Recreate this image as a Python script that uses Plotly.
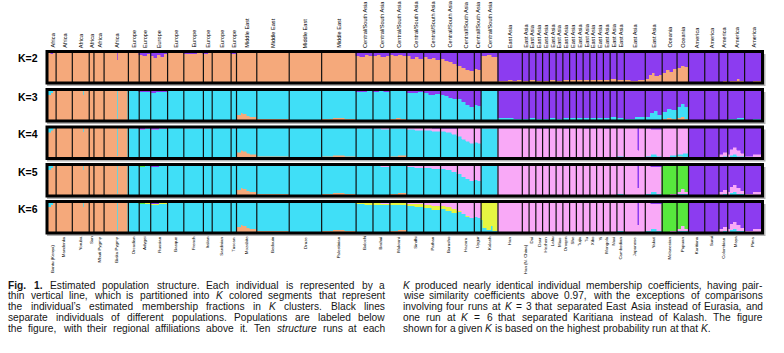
import re
import plotly.graph_objects as go

# ---------------- data ----------------
POPULATIONS = ["Bantu (Kenya)", "Mandenka", "Yoruba", "San", "Mbuti Pygmy", "Biaka Pygmy",
               "Orcadian", "Adygei", "Russian", "Basque", "French", "Italian", "Sardinian", "Tuscan",
               "Mozabite", "Bedouin", "Druze", "Palestinian",
               "Balochi", "Brahui", "Makrani", "Sindhi", "Pathan", "Burusho", "Hazara", "Uygur", "Kalash",
               "Han", "Han (N. China)", "Dai", "Daur", "Hezhen", "Lahu", "Miao", "Oroqen", "She", "Tujia",
               "Tu", "Xibo", "Yi", "Mongola", "Naxi", "Cambodian", "Japanese", "Yakut",
               "Melanesian", "Papuan",
               "Karitiana", "Surui", "Colombian", "Maya", "Pima"]
REGIONS = ["Africa"] * 6 + ["Europe"] * 8 + ["Middle East"] * 4 + ["Central/South Asia"] * 9 + \
          ["East Asia"] * 18 + ["Oceania"] * 2 + ["America"] * 5
SAMPLE_SIZES = [12, 24, 25, 7, 15, 36,
                16, 17, 25, 24, 29, 13, 28, 8,
                30, 48, 48, 51,
                25, 25, 25, 25, 25, 25, 25, 10, 25,
                36, 10, 10, 10, 10, 10, 10, 10, 10, 10, 10, 10, 10, 10, 10, 11, 31, 25,
                22, 17,
                24, 21, 13, 25, 25]
K_LABELS = ["K=2", "K=3", "K=4", "K=5", "K=6"]

ORANGE = "#F5A97B"
PURPLE = "#8C3CF0"
CYAN = "#40DFF7"
PINK = "#F9A9F7"
GREEN = "#57E83D"
YELLOW = "#E6F542"

# each population: list of (relative weight, cluster fractions...)
K2_CLUSTERS = [ORANGE, PURPLE]
K2 = [
    [(1, 97, 3), (1, 95, 5), (1, 98, 2)],
    [(1, 98, 2), (1, 97, 3)],
    [(1, 97, 3), (1, 99, 1), (1, 96, 4)],
    [(1, 98, 2)],
    [(1, 98, 2)],
    [(20, 98, 2), (1, 75, 25), (15, 98, 2)],
    [(1, 96, 4), (1, 97, 3)],
    [(1, 90, 10), (1, 86, 14), (1, 92, 8)],
    [(1, 88, 12), (1, 80, 20), (1, 90, 10), (1, 85, 15), (1, 92, 8)],
    [(1, 97, 3), (1, 96, 4)],
    [(1, 95, 5), (1, 93, 7), (1, 96, 4)],
    [(1, 94, 6), (1, 96, 4)],
    [(1, 97, 3), (1, 96, 4)],
    [(1, 95, 5)],
    [(1, 98, 2), (1, 97, 3)],
    [(1, 98, 2), (1, 97, 3)],
    [(1, 98, 2), (1, 99, 1)],
    [(1, 97, 3), (1, 98, 2)],
    [(1, 88, 12), (1, 85, 15), (1, 90, 10), (1, 86, 14)],
    [(1, 86, 14), (1, 90, 10), (1, 84, 16), (1, 88, 12)],
    [(1, 90, 10), (1, 86, 14), (1, 91, 9), (1, 88, 12)],
    [(1, 86, 14), (1, 78, 22), (1, 83, 17), (1, 76, 24)],
    [(1, 82, 18), (1, 78, 22), (1, 80, 20), (1, 74, 26)],
    [(1, 76, 24), (1, 70, 30), (1, 66, 34), (1, 62, 38)],
    [(1, 55, 45), (1, 48, 52), (1, 42, 58), (1, 38, 62)],
    [(1, 45, 55), (1, 42, 58)],
    [(1, 87, 13), (1, 89, 11), (1, 85, 15)],
    [(1, 6, 94), (1, 4, 96), (1, 8, 92), (1, 5, 95), (1, 7, 93)],
    [(1, 6, 94)], [(1, 8, 92)], [(1, 6, 94)], [(1, 5, 95)], [(1, 7, 93)], [(1, 6, 94)], [(1, 8, 92)],
    [(1, 7, 93)], [(1, 8, 92)], [(1, 9, 91)], [(1, 7, 93)], [(1, 8, 92)], [(1, 8, 92)], [(1, 10, 90)],
    [(1, 8, 92)],
    [(1, 7, 93), (1, 5, 95), (1, 9, 91)],
    [(1, 12, 88), (1, 24, 76), (1, 30, 70), (1, 20, 80), (1, 26, 74)],
    [(1, 32, 68), (1, 40, 60), (1, 36, 64), (1, 44, 56)],
    [(1, 46, 54), (1, 54, 46), (1, 50, 50)],
    [(1, 1, 99)],
    [(1, 1, 99)],
    [(1, 3, 97), (1, 6, 94)],
    [(3, 3, 97), (1, 35, 65), (10, 5, 95), (4, 12, 88), (7, 6, 94)],
    [(1, 2, 98), (1, 4, 96)],
]

K3_CLUSTERS = [ORANGE, CYAN, PURPLE]
K3 = [
    [(1, 82, 18, 0), (1, 90, 10, 0), (1, 97, 3, 0)],
    [(1, 99, 1, 0)],
    [(17, 99, 1, 0), (1, 85, 15, 0), (7, 99, 1, 0)],
    [(1, 99, 1, 0)],
    [(1, 99, 1, 0)],
    [(20, 99, 1, 0), (1, 5, 95, 0), (15, 99, 1, 0)],
    [(1, 1, 97, 2)],
    [(1, 1, 92, 7), (1, 1, 94, 5)],
    [(1, 0, 90, 10), (1, 1, 93, 6), (1, 0, 95, 5)],
    [(1, 1, 98, 1)],
    [(1, 1, 97, 2), (1, 2, 96, 2)],
    [(1, 2, 96, 2)],
    [(1, 2, 97, 1)],
    [(1, 3, 95, 2)],
    [(6, 18, 81, 1), (3, 25, 74, 1), (1, 62, 37, 1), (6, 20, 79, 1), (4, 15, 84, 1), (10, 12, 87, 1)],
    [(13, 4, 95, 1), (1, 80, 19, 1), (34, 6, 93, 1)],
    [(1, 2, 97, 1)],
    [(1, 5, 94, 1), (1, 8, 91, 1), (1, 4, 95, 1)],
    [(1, 1, 94, 5), (1, 2, 92, 6), (1, 1, 95, 4)],
    [(1, 1, 94, 5), (1, 2, 95, 3), (1, 1, 92, 7)],
    [(1, 5, 92, 3), (1, 8, 89, 3), (1, 4, 94, 2)],
    [(1, 1, 90, 9), (1, 2, 87, 11), (1, 1, 91, 8)],
    [(1, 1, 88, 11), (1, 0, 85, 15), (1, 1, 87, 12)],
    [(1, 0, 85, 15), (1, 0, 80, 20), (1, 0, 75, 25), (1, 0, 70, 30)],
    [(1, 0, 70, 30), (1, 0, 60, 40), (1, 0, 52, 48), (1, 0, 45, 55)],
    [(1, 0, 52, 48), (1, 0, 48, 52)],
    [(1, 1, 97, 2)],
    [(1, 1, 6, 93), (1, 0, 8, 92), (1, 1, 5, 94)],
    [(1, 0, 6, 94)], [(1, 1, 7, 92)], [(1, 0, 6, 94)], [(1, 0, 5, 95)], [(1, 1, 6, 93)], [(1, 0, 6, 94)],
    [(1, 0, 8, 92)], [(1, 1, 6, 93)], [(1, 0, 8, 92)], [(1, 1, 8, 91)], [(1, 0, 7, 93)], [(1, 1, 7, 92)],
    [(1, 0, 8, 92)], [(1, 1, 9, 90)],
    [(1, 1, 8, 91)],
    [(1, 0, 6, 94), (1, 1, 9, 90)],
    [(1, 0, 12, 88), (1, 1, 24, 75), (1, 0, 30, 70), (1, 1, 18, 81)],
    [(1, 4, 24, 72), (1, 7, 32, 61), (1, 5, 28, 67)],
    [(1, 7, 36, 57), (1, 10, 44, 46), (1, 6, 38, 56)],
    [(1, 0, 1, 99)],
    [(1, 0, 1, 99)],
    [(1, 0, 3, 97)],
    [(3, 1, 3, 96), (1, 3, 28, 69), (10, 1, 5, 94), (11, 2, 7, 91)],
    [(1, 0, 2, 98), (1, 1, 4, 95)],
]

K4_CLUSTERS = [ORANGE, CYAN, PINK, PURPLE]
K4 = [
    [(1, 82, 18, 0, 0), (1, 90, 10, 0, 0), (1, 97, 3, 0, 0)],
    [(1, 99, 1, 0, 0)],
    [(17, 99, 1, 0, 0), (1, 85, 15, 0, 0), (7, 99, 1, 0, 0)],
    [(1, 99, 1, 0, 0)],
    [(1, 99, 1, 0, 0)],
    [(20, 99, 1, 0, 0), (1, 5, 95, 0, 0), (15, 99, 1, 0, 0)],
    [(1, 1, 97, 1, 1)],
    [(1, 1, 93, 1, 5), (1, 1, 95, 1, 3)],
    [(1, 0, 92, 1, 7), (1, 1, 95, 1, 3)],
    [(1, 1, 98, 0, 1)],
    [(1, 1, 97, 1, 1)],
    [(1, 2, 96, 1, 1)],
    [(1, 2, 97, 0, 1)],
    [(1, 3, 95, 1, 1)],
    [(6, 18, 81, 0, 1), (3, 25, 74, 0, 1), (1, 62, 37, 0, 1), (6, 20, 79, 0, 1), (4, 15, 84, 0, 1), (10, 12, 87, 0, 1)],
    [(13, 4, 95, 0, 1), (1, 80, 19, 0, 1), (34, 6, 93, 0, 1)],
    [(1, 2, 97, 0, 1)],
    [(1, 5, 94, 0, 1), (1, 8, 91, 0, 1), (1, 4, 95, 0, 1)],
    [(1, 1, 95, 3, 1), (1, 2, 94, 3, 1)],
    [(1, 1, 95, 3, 1), (1, 1, 93, 5, 1)],
    [(1, 5, 91, 3, 1), (1, 8, 88, 3, 1)],
    [(1, 1, 92, 6, 1), (1, 2, 89, 8, 1)],
    [(1, 1, 90, 8, 1), (1, 0, 86, 12, 2)],
    [(1, 0, 88, 10, 2), (1, 0, 82, 16, 2), (1, 0, 76, 22, 2)],
    [(1, 0, 72, 27, 1), (1, 0, 62, 37, 1), (1, 0, 54, 45, 1), (1, 0, 48, 51, 1)],
    [(1, 0, 52, 47, 1), (1, 0, 48, 51, 1)],
    [(1, 1, 96, 2, 1)],
    [(1, 0, 2, 97, 1), (1, 0, 3, 96, 1)],
    [(1, 0, 1, 98, 1)], [(1, 0, 2, 97, 1)], [(1, 0, 1, 97, 2)], [(1, 0, 1, 97, 2)], [(1, 0, 2, 97, 1)],
    [(1, 0, 1, 98, 1)], [(1, 0, 2, 96, 2)], [(1, 0, 1, 98, 1)], [(1, 0, 2, 97, 1)], [(1, 0, 2, 96, 2)],
    [(1, 0, 2, 96, 2)], [(1, 0, 2, 97, 1)], [(1, 0, 2, 96, 2)], [(1, 0, 3, 96, 1)],
    [(1, 1, 3, 95, 1)],
    [(20, 0, 1, 98, 1), (1, 0, 0, 25, 75), (10, 0, 1, 98, 1)],
    [(1, 0, 4, 92, 4), (1, 0, 10, 85, 5), (1, 0, 6, 88, 6)],
    [(1, 0, 3, 96, 1), (1, 1, 6, 92, 1)],
    [(1, 4, 8, 87, 1), (1, 3, 12, 84, 1)],
    [(1, 0, 0, 1, 99)],
    [(1, 0, 0, 1, 99)],
    [(1, 0, 2, 8, 90), (1, 0, 4, 14, 82)],
    [(3, 0, 3, 10, 87), (1, 0, 15, 25, 60), (4, 0, 8, 20, 72), (6, 1, 10, 25, 64), (6, 0, 6, 18, 76), (5, 0, 4, 12, 84)],
    [(1, 0, 1, 5, 94), (1, 0, 2, 9, 89)],
]

K5_CLUSTERS = [ORANGE, CYAN, PINK, GREEN, PURPLE]
K5 = [
    [(1, 82, 18, 0, 0, 0), (1, 90, 10, 0, 0, 0), (1, 97, 3, 0, 0, 0)],
    [(1, 99, 1, 0, 0, 0)],
    [(17, 99, 1, 0, 0, 0), (1, 85, 15, 0, 0, 0), (7, 99, 1, 0, 0, 0)],
    [(1, 99, 1, 0, 0, 0)],
    [(1, 99, 1, 0, 0, 0)],
    [(20, 99, 1, 0, 0, 0), (1, 5, 95, 0, 0, 0), (15, 99, 1, 0, 0, 0)],
    [(1, 1, 97, 1, 0, 1)],
    [(1, 1, 93, 1, 1, 4), (1, 1, 95, 1, 0, 3)],
    [(1, 0, 92, 1, 1, 6), (1, 1, 95, 1, 0, 3)],
    [(1, 1, 98, 0, 0, 1)],
    [(1, 1, 97, 1, 0, 1)],
    [(1, 2, 96, 1, 0, 1)],
    [(1, 2, 97, 0, 0, 1)],
    [(1, 3, 95, 1, 0, 1)],
    [(6, 18, 81, 0, 0, 1), (3, 25, 74, 0, 0, 1), (1, 62, 37, 0, 0, 1), (6, 20, 79, 0, 0, 1), (4, 15, 84, 0, 0, 1), (10, 12, 87, 0, 0, 1)],
    [(13, 4, 95, 0, 0, 1), (1, 80, 19, 0, 0, 1), (34, 6, 93, 0, 0, 1)],
    [(1, 2, 97, 0, 0, 1)],
    [(1, 5, 94, 0, 0, 1), (1, 8, 91, 0, 0, 1), (1, 4, 95, 0, 0, 1)],
    [(1, 1, 95, 3, 0, 1), (1, 2, 94, 3, 0, 1)],
    [(1, 1, 95, 3, 0, 1), (1, 1, 93, 5, 0, 1)],
    [(1, 5, 91, 3, 0, 1), (1, 8, 88, 3, 0, 1)],
    [(1, 1, 92, 6, 0, 1), (1, 2, 89, 8, 0, 1)],
    [(1, 1, 90, 8, 0, 1), (1, 0, 86, 12, 0, 2)],
    [(1, 0, 88, 10, 0, 2), (1, 0, 82, 16, 0, 2), (1, 0, 76, 22, 0, 2)],
    [(1, 0, 72, 27, 0, 1), (1, 0, 62, 37, 0, 1), (1, 0, 54, 45, 0, 1), (1, 0, 48, 51, 0, 1)],
    [(1, 0, 52, 47, 0, 1), (1, 0, 48, 51, 0, 1)],
    [(1, 1, 96, 2, 0, 1)],
    [(1, 0, 2, 97, 0, 1), (1, 0, 3, 96, 0, 1)],
    [(1, 0, 1, 98, 0, 1)], [(1, 0, 2, 97, 0, 1)], [(1, 0, 1, 97, 0, 2)], [(1, 0, 1, 97, 0, 2)], [(1, 0, 2, 97, 0, 1)],
    [(1, 0, 1, 98, 0, 1)], [(1, 0, 2, 96, 0, 2)], [(1, 0, 1, 98, 0, 1)], [(1, 0, 2, 97, 0, 1)], [(1, 0, 2, 96, 0, 2)],
    [(1, 0, 2, 96, 0, 2)], [(1, 0, 2, 97, 0, 1)], [(1, 0, 2, 96, 0, 2)], [(1, 0, 3, 96, 0, 1)],
    [(1, 1, 3, 95, 0, 1)],
    [(20, 0, 1, 98, 0, 1), (1, 0, 0, 25, 0, 75), (10, 0, 1, 98, 0, 1)],
    [(1, 0, 4, 92, 0, 4), (1, 0, 10, 85, 0, 5), (1, 0, 6, 88, 0, 6)],
    [(1, 0, 1, 2, 96, 1), (1, 0, 2, 3, 94, 1)],
    [(1, 2, 3, 6, 88, 1), (1, 1, 5, 14, 79, 1), (1, 2, 3, 8, 86, 1)],
    [(1, 0, 0, 1, 0, 99)],
    [(1, 0, 0, 1, 0, 99)],
    [(1, 0, 2, 8, 0, 90), (1, 0, 4, 14, 0, 82)],
    [(3, 0, 3, 10, 0, 87), (1, 0, 15, 25, 0, 60), (4, 0, 8, 20, 0, 72), (6, 1, 10, 25, 0, 64), (6, 0, 6, 18, 0, 76), (5, 0, 4, 12, 0, 84)],
    [(1, 0, 1, 5, 0, 94), (1, 0, 2, 9, 0, 89)],
]

K6_CLUSTERS = [ORANGE, CYAN, YELLOW, PINK, GREEN, PURPLE]
K6 = [
    [(1, 82, 16, 2, 0, 0, 0), (1, 90, 10, 0, 0, 0, 0), (1, 97, 3, 0, 0, 0, 0)],
    [(1, 99, 1, 0, 0, 0, 0)],
    [(17, 99, 1, 0, 0, 0, 0), (1, 85, 15, 0, 0, 0, 0), (7, 99, 1, 0, 0, 0, 0)],
    [(1, 99, 1, 0, 0, 0, 0)],
    [(1, 99, 1, 0, 0, 0, 0)],
    [(20, 99, 1, 0, 0, 0, 0), (1, 5, 95, 0, 0, 0, 0), (15, 99, 1, 0, 0, 0, 0)],
    [(1, 1, 96, 1, 1, 0, 1)],
    [(1, 1, 91, 2, 1, 1, 4), (1, 1, 93, 2, 1, 0, 3)],
    [(1, 0, 90, 2, 1, 1, 6), (1, 1, 93, 2, 1, 0, 3)],
    [(1, 1, 97, 1, 0, 0, 1)],
    [(1, 1, 96, 1, 1, 0, 1)],
    [(1, 2, 95, 1, 1, 0, 1)],
    [(1, 2, 96, 1, 0, 0, 1)],
    [(1, 3, 94, 1, 1, 0, 1)],
    [(6, 18, 80, 1, 0, 0, 1), (3, 25, 73, 1, 0, 0, 1), (1, 62, 36, 1, 0, 0, 1), (6, 20, 78, 1, 0, 0, 1), (4, 15, 83, 1, 0, 0, 1), (10, 12, 86, 1, 0, 0, 1)],
    [(13, 4, 94, 1, 0, 0, 1), (1, 80, 18, 1, 0, 0, 1), (34, 6, 92, 1, 0, 0, 1)],
    [(1, 2, 96, 1, 0, 0, 1)],
    [(1, 5, 93, 1, 0, 0, 1), (1, 8, 90, 1, 0, 0, 1), (1, 4, 94, 1, 0, 0, 1)],
    [(1, 1, 92, 3, 3, 0, 1), (1, 2, 89, 5, 3, 0, 1)],
    [(1, 1, 89, 6, 3, 0, 1), (1, 1, 89, 5, 4, 0, 1)],
    [(1, 5, 85, 6, 3, 0, 1), (1, 8, 81, 8, 2, 0, 1)],
    [(1, 1, 86, 6, 6, 0, 1), (1, 2, 82, 8, 7, 0, 1)],
    [(1, 1, 80, 10, 8, 0, 1), (1, 0, 75, 13, 10, 0, 2)],
    [(1, 0, 78, 10, 10, 0, 2), (1, 0, 70, 14, 14, 0, 2), (1, 0, 64, 14, 20, 0, 2)],
    [(1, 0, 68, 4, 27, 0, 1), (1, 0, 60, 2, 37, 0, 1), (1, 0, 52, 2, 45, 0, 1), (1, 0, 46, 2, 51, 0, 1)],
    [(1, 0, 50, 2, 47, 0, 1), (1, 0, 46, 2, 51, 0, 1)],
    [(3, 0, 40, 60, 0, 0, 0), (5, 0, 15, 85, 0, 0, 0), (6, 0, 8, 92, 0, 0, 0), (4, 0, 22, 78, 0, 0, 0), (7, 0, 6, 94, 0, 0, 0)],
    [(1, 0, 2, 0, 97, 0, 1), (1, 0, 3, 0, 96, 0, 1)],
    [(1, 0, 1, 0, 98, 0, 1)], [(1, 0, 2, 0, 97, 0, 1)], [(1, 0, 1, 0, 97, 0, 2)], [(1, 0, 1, 0, 97, 0, 2)], [(1, 0, 2, 0, 97, 0, 1)],
    [(1, 0, 1, 0, 98, 0, 1)], [(1, 0, 2, 0, 96, 0, 2)], [(1, 0, 1, 0, 98, 0, 1)], [(1, 0, 2, 0, 97, 0, 1)], [(1, 0, 2, 0, 96, 0, 2)],
    [(1, 0, 2, 0, 96, 0, 2)], [(1, 0, 2, 0, 97, 0, 1)], [(1, 0, 2, 0, 96, 0, 2)], [(1, 0, 3, 0, 96, 0, 1)],
    [(1, 1, 3, 0, 95, 0, 1)],
    [(20, 0, 1, 0, 98, 0, 1), (1, 0, 0, 0, 25, 0, 75), (10, 0, 1, 0, 98, 0, 1)],
    [(1, 0, 4, 0, 92, 0, 4), (1, 0, 10, 0, 85, 0, 5), (1, 0, 6, 0, 88, 0, 6)],
    [(1, 0, 1, 0, 2, 96, 1), (1, 0, 2, 0, 3, 94, 1)],
    [(1, 2, 3, 0, 6, 88, 1), (1, 1, 5, 0, 14, 79, 1), (1, 2, 3, 0, 8, 86, 1)],
    [(1, 0, 0, 0, 1, 0, 99)],
    [(1, 0, 0, 0, 1, 0, 99)],
    [(1, 0, 2, 0, 8, 0, 90), (1, 0, 4, 0, 14, 0, 82)],
    [(3, 0, 3, 0, 10, 0, 87), (1, 0, 15, 1, 25, 0, 59), (4, 0, 8, 0, 20, 0, 72), (6, 1, 10, 1, 24, 0, 64), (6, 0, 6, 0, 18, 0, 76), (5, 0, 4, 0, 12, 0, 84)],
    [(1, 0, 1, 0, 5, 0, 94), (1, 0, 2, 0, 9, 0, 89)],
]

CAPTION_LEFT = [
    "<b>Fig.</b> <b>1.</b> Estimated population structure. Each individual is represented by a",
    "thin vertical line, which is partitioned into <i>K</i> colored segments that represent",
    "the individual\u2019s estimated membership fractions in <i>K</i> clusters. Black lines",
    "separate individuals of different populations. Populations are labeled below",
    "the figure, with their regional affiliations above it. Ten <i>structure</i> runs at each",
]
CAPTION_RIGHT = [
    "<i>K</i> produced nearly identical individual membership coefficients, having pair-",
    "wise similarity coefficients above 0.97, with the exceptions of comparisons",
    "involving four runs at <i>K</i> = 3 that separated East Asia instead of Eurasia, and",
    "one run at <i>K</i> = 6 that separated Karitiana instead of Kalash. The figure",
    "shown for a given <i>K</i> is based on the highest probability run at that <i>K</i>.",
]

# ---------------- layout helpers ----------------
W, H = 784, 353
PX0, PX1 = 48.0, 761.5
PANEL_TOPS = [52.0, 90.0, 127.5, 165.0, 202.0]
PANEL_H = 30.5
FONT = "Liberation Sans, Arial, Helvetica, sans-serif"
LABEL_DROP = {"Bantu (Kenya)": 8.0, "Han (N. China)": 8.0}

PANELS = [(K2, K2_CLUSTERS), (K3, K3_CLUSTERS), (K4, K4_CLUSTERS), (K5, K5_CLUSTERS), (K6, K6_CLUSTERS)]


def fx(v):
    return v / W


def fy(v):
    return 1 - v / H


N = sum(SAMPLE_SIZES)
starts = [0]
for s in SAMPLE_SIZES:
    starts.append(starts[-1] + s)

fig = go.Figure()
layout = dict(width=W, height=H, margin=dict(l=0, r=0, t=0, b=0), paper_bgcolor="white",
              plot_bgcolor="white", barmode="stack", bargap=0, showlegend=False)
shapes = []
annotations = []

for p, (data, clusters) in enumerate(PANELS):
    sfx = "" if p == 0 else str(p + 1)
    top = PANEL_TOPS[p]
    bot = top + PANEL_H
    layout["xaxis" + sfx] = dict(domain=[fx(PX0), fx(PX1)], range=[0, N], visible=False,
                                 anchor="y" + sfx, fixedrange=True)
    layout["yaxis" + sfx] = dict(domain=[fy(bot), fy(top)], range=[0, 1], visible=False,
                                 anchor="x" + sfx, fixedrange=True)
    xs, ws = [], []
    vals = [[] for _ in clusters]
    for i, subs in enumerate(data):
        tot = sum(s[0] for s in subs)
        x = starts[i]
        for s in subs:
            w = SAMPLE_SIZES[i] * s[0] / tot
            f = s[1:]
            sm = float(sum(f))
            xs.append(x + w / 2)
            ws.append(w)
            for c in range(len(clusters)):
                vals[c].append(f[c] / sm)
            x += w
    for c, col in enumerate(clusters):
        fig.add_trace(go.Bar(x=xs, y=vals[c], width=ws, xaxis="x" + sfx, yaxis="y" + sfx,
                             marker=dict(color=col, line=dict(color=col, width=0.5)),
                             hoverinfo="skip"))
    # population separators
    lx, ly = [], []
    for b in starts[1:-1]:
        lx += [b, b, None]
        ly += [0, 1, None]
    fig.add_trace(go.Scatter(x=lx, y=ly, mode="lines", xaxis="x" + sfx, yaxis="y" + sfx,
                             line=dict(color="#111111", width=1.2), hoverinfo="skip"))
    # shadow + frame
    shapes.append(dict(type="rect", xref="paper", yref="paper", layer="below",
                       x0=fx(PX0 - 1), x1=fx(PX1 + 4), y0=fy(bot + 3.5), y1=fy(top + 2),
                       fillcolor="#b4b4b4", line=dict(width=0)))
    shapes.append(dict(type="rect", xref="paper", yref="paper", layer="above",
                       x0=fx(PX0 - 1), x1=fx(PX1 + 1), y0=fy(bot + 0.5), y1=fy(top - 0.5),
                       line=dict(color="black", width=3)))
    annotations.append(dict(text="<b>%s</b>" % K_LABELS[p], xref="paper", yref="paper",
                            x=fx(39.5), y=fy(top + 6.5), xanchor="right", yanchor="middle",
                            showarrow=False, font=dict(family=FONT, size=10.5, color="black")))

# region labels (top) and population labels (bottom)
for i in range(len(POPULATIONS)):
    cx = (starts[i] + starts[i + 1]) / 2
    annotations.append(dict(text=REGIONS[i], xref="x", yref="paper", x=cx, y=fy(49.0),
                            xanchor="center", yanchor="bottom", textangle=-90, showarrow=False,
                            borderpad=0, font=dict(family=FONT, size=5.6, color="black")))
    drop = LABEL_DROP.get(POPULATIONS[i], 0.0)
    annotations.append(dict(text=POPULATIONS[i], xref="x5", yref="paper", x=cx, y=fy(235.5 + drop),
                            xanchor="center", yanchor="top", textangle=-90, showarrow=False,
                            borderpad=0, font=dict(family=FONT, size=4.4, color="black")))

# caption (justified by placing words)
AW = {' ': 278, '(': 333, ')': 333, ',': 278, '-': 333, '.': 278, '/': 278, '=': 584,
      '\u2019': 222, "'": 191, ':': 278}
for d in "0123456789":
    AW[d] = 556
AW.update({'A': 667, 'B': 667, 'C': 722, 'D': 722, 'E': 667, 'F': 611, 'G': 778, 'H': 722, 'I': 278,
           'J': 500, 'K': 667, 'L': 556, 'M': 833, 'N': 722, 'O': 778, 'P': 667, 'Q': 778, 'R': 722,
           'S': 667, 'T': 611, 'U': 722, 'V': 667, 'W': 944, 'X': 667, 'Y': 667, 'Z': 611,
           'a': 556, 'b': 556, 'c': 500, 'd': 556, 'e': 556, 'f': 278, 'g': 556, 'h': 556, 'i': 222,
           'j': 222, 'k': 500, 'l': 222, 'm': 833, 'n': 556, 'o': 556, 'p': 556, 'q': 556, 'r': 333,
           's': 500, 't': 278, 'u': 556, 'v': 500, 'w': 722, 'x': 500, 'y': 500, 'z': 500})
CAP_SIZE = 10.2
CAP_Y = [285.0, 295.8, 306.6, 317.4, 328.2]


def word_width(word):
    plain = re.sub(r"<[^>]+>", "", word)
    w = sum(AW.get(ch, 556) for ch in plain) * CAP_SIZE / 1000
    return w * 1.09 if "<b>" in word else w


def place_lines(lines, left, right, justify_last):
    for li, line in enumerate(lines):
        words = line.split(" ")
        widths = [word_width(w) for w in words]
        natural_gap = 278 * CAP_SIZE / 1000
        if li < len(lines) - 1 or justify_last:
            gap = (right - left - sum(widths)) / (len(words) - 1)
        else:
            gap = natural_gap
        gap = max(gap, 1.6)
        x = left
        for w, wd in zip(words, widths):
            annotations.append(dict(text=w, xref="paper", yref="paper", x=fx(x), y=fy(CAP_Y[li]),
                                    xanchor="left", yanchor="middle", showarrow=False,
                                    borderpad=0, borderwidth=0,
                                    font=dict(family=FONT, size=CAP_SIZE, color="#151515")))
            x += wd + gap


place_lines(CAPTION_LEFT, 8.3, 385.0, True)
place_lines(CAPTION_RIGHT, 402.7, 762.7, False)

layout["shapes"] = shapes
layout["annotations"] = annotations
fig.update_layout(**layout)
fig.write_html("out.html")
